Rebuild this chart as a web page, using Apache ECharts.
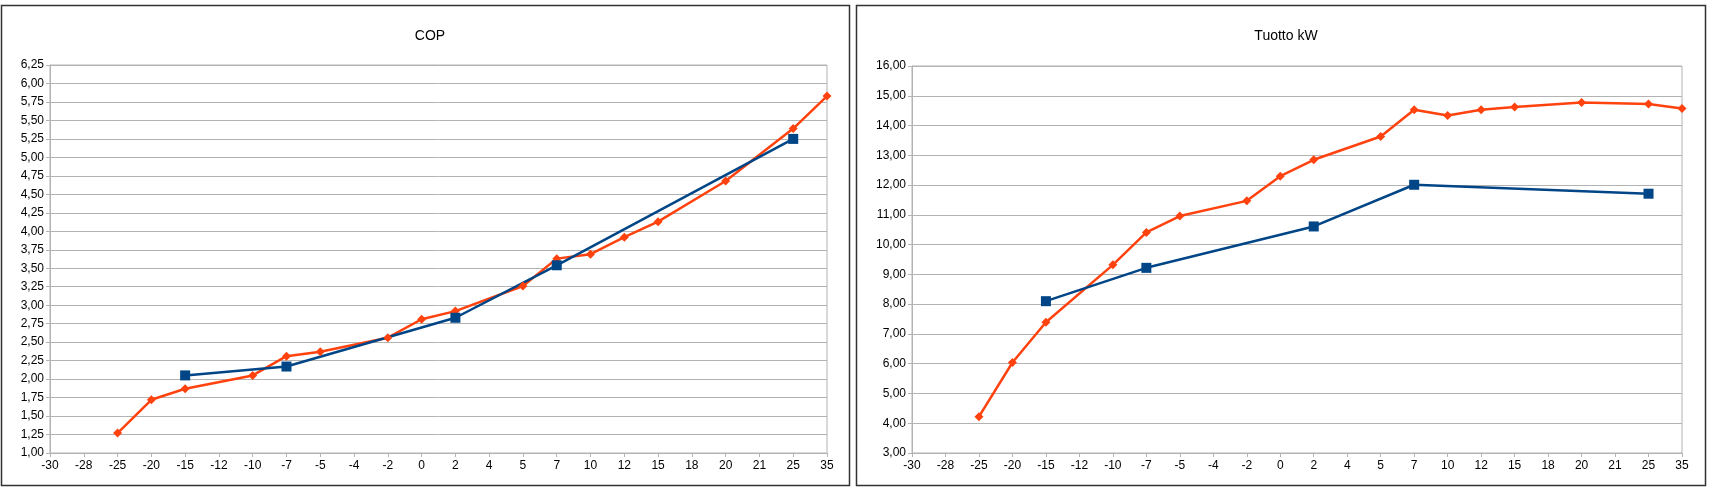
<!DOCTYPE html>
<html>
<head>
<meta charset="utf-8">
<script src="https://cdn.jsdelivr.net/npm/echarts@6/dist/echarts.min.js"></script>
<style>
html,body{margin:0;padding:0;background:#fff;}
#c{width:1717px;height:489px;}
</style>
</head>
<body>
<div id="c"></div>
<script>
const categories = ['-30','-28','-25','-20','-15','-12','-10','-7','-5','-4','-2','0','2','4','5','7','10','12','15','18','20','21','25','35'];

// COP chart
const copOrange = [null,null,1.27,1.72,1.87,null,2.05,2.31,2.37,null,2.56,2.81,2.92,null,3.26,3.63,3.69,3.92,4.13,null,4.68,null,5.39,5.83];
const copBlue   = [null,null,null,null,2.05,null,null,2.17,null,null,null,null,2.83,null,null,3.54,null,null,null,null,null,null,5.25,null];

// Tuotto kW chart
const kwOrange = [null,null,4.22,6.04,7.39,null,9.32,10.41,10.96,null,11.47,12.30,12.85,null,13.63,14.53,14.34,14.53,14.62,null,14.77,null,14.72,14.57];
const kwBlue   = [null,null,null,null,8.10,null,null,9.22,null,null,null,null,10.61,null,null,12.01,null,null,null,null,null,null,11.71,null];

const titles = ['COP','Tuotto kW'];

const BLUE = '#004586', ORANGE = '#ff420e', GRID = '#b3b3b3';
const fmt = v => v.toFixed(2).replace('.', ',');

const chart = echarts.init(document.getElementById('c'), null, {renderer:'canvas'});

function xAx(i){
  return {
    type:'category', gridIndex:i, data:categories, boundaryGap:false,
    axisLine:{show:true, lineStyle:{color:GRID, width:1}},
    axisTick:{show:true, alignWithLabel:true, length:4, lineStyle:{color:GRID}},
    axisLabel:{color:'#000', fontFamily:'Liberation Sans', fontSize:12, margin:7, interval:0},
    splitLine:{show:false}
  };
}
function yAx(i, min, max, interval){
  return {
    type:'value', gridIndex:i, min:min, max:max, interval:interval,
    axisLine:{show:true, lineStyle:{color:GRID, width:1}},
    axisTick:{show:true, length:4, lineStyle:{color:GRID}},
    axisLabel:{color:'#000', fontFamily:'Liberation Sans', fontSize:12, margin:6, formatter:fmt},
    splitLine:{show:true, lineStyle:{color:GRID, width:1}}
  };
}
function lineS(name, data, color, sym, size, xi){
  return {
    name:name, type:'line', xAxisIndex:xi, yAxisIndex:xi, data:data, connectNulls:true,
    symbol:sym, symbolSize:size, showAllSymbol:true,
    lineStyle:{color:color, width:2.5},
    itemStyle:{color:color},
    animation:false
  };
}

chart.setOption({
  animation:false,
  backgroundColor:'#fff',
  title:[
    {text:titles[0], left:425, top:24, textAlign:'center', textStyle:{fontFamily:'Liberation Sans', fontSize:14, fontWeight:'normal', color:'#000'}},
    {text:titles[1], left:1281, top:24, textAlign:'center', textStyle:{fontFamily:'Liberation Sans', fontSize:14, fontWeight:'normal', color:'#000'}}
  ],
  graphic:[
    {type:'rect', shape:{x:1.5, y:5.5, width:848, height:480}, style:{fill:'none', stroke:'#333', lineWidth:1.5}, silent:true, z:-1},
    {type:'rect', shape:{x:856.5, y:5.5, width:849, height:480}, style:{fill:'none', stroke:'#333', lineWidth:1.5}, silent:true, z:-1}
  ],
  grid:[
    {left:50, right:890, top:65, bottom:36, show:true, borderColor:GRID, borderWidth:1, backgroundColor:'transparent'},
    {left:912, right:35, top:66, bottom:36, show:true, borderColor:GRID, borderWidth:1, backgroundColor:'transparent'}
  ],
  xAxis:[xAx(0), xAx(1)],
  yAxis:[yAx(0, 1, 6.25, 0.25), yAx(1, 3, 16, 1)],
  series:[
    lineS('COP A', copOrange, ORANGE, 'diamond', 9, 0),
    lineS('COP B', copBlue, BLUE, 'rect', 10, 0),
    lineS('kW A', kwOrange, ORANGE, 'diamond', 9, 1),
    lineS('kW B', kwBlue, BLUE, 'rect', 10, 1)
  ]
});
</script>
</body>
</html>
